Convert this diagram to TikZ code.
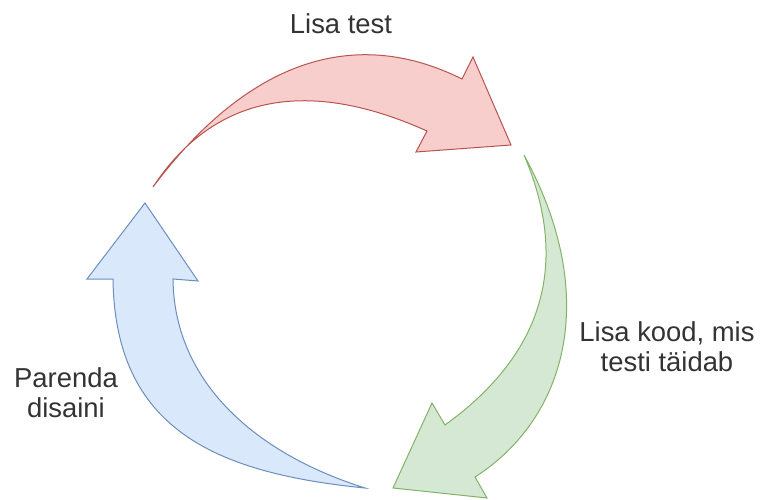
\documentclass[tikz,border=0pt]{standalone}
\usepackage{fontspec}
\setmainfont{Liberation Sans}
\usetikzlibrary{positioning}
\definecolor{redfill}{HTML}{F8CECC}
\definecolor{redline}{HTML}{B85450}
\definecolor{greenfill}{HTML}{D5E8D4}
\definecolor{greenline}{HTML}{82B366}
\definecolor{bluefill}{HTML}{DAE8FC}
\definecolor{blueline}{HTML}{6C8EBF}
\definecolor{labeltext}{HTML}{333333}
\tikzset{
	cyclestyle/.style={
		x=1pt, y=-1pt,
		line width=1pt,
		line join=miter}}

\begin{document}
\begin{tikzpicture}[cyclestyle,
	steplabel/.style={font=\fontsize{27.4}{30}\selectfont, text=labeltext, align=center, inner sep=0pt},
	redarrow/.style={draw=redline, fill=redfill},
	greenarrow/.style={draw=greenline, fill=greenfill},
	bluearrow/.style={draw=blueline, fill=bluefill},
	]
	\useasboundingbox (0,0) rectangle (761,500);
	
	\coordinate (redtail) at (153,187);
	\coordinate (redtip) at (511,145);
	\coordinate (greentail) at (524,155);
	\coordinate (greentip) at (393,488);
	\coordinate (bluetail) at (365,488);
	\coordinate (bluetip) at (145,203);
	
	\draw[redarrow] (redtail) .. controls (255,51) and (363,29.5) .. (462,79)
		-- (473,57) -- (redtip) -- (416,152) -- (427,131)
		.. controls (318,82) and (219,87) .. (redtail) -- cycle;
	
	\draw[greenarrow] (greentail) .. controls (601,296) and (567,418) .. (475,477)
		-- (487,498) -- (greentip) -- (432,403) -- (445,425)
		.. controls (542,355) and (571,265) .. (greentail) -- cycle;
	
	\draw[bluearrow] (bluetail) .. controls (215,473) and (115,429) .. (113,279)
		-- (87,279) -- (bluetip) -- (198,281) -- (173,279)
		.. controls (174,379) and (251,452) .. (bluetail) -- cycle;
	
	\node[steplabel] (addtest) at (341,24) {Lisa test};
	\node[steplabel] (addcode) at (667,347) {Lisa kood, mis\\testi täidab};
	\node[steplabel] (refactor) at (66,393) {Parenda\\disaini};
	
\end{tikzpicture}
\end{document}
